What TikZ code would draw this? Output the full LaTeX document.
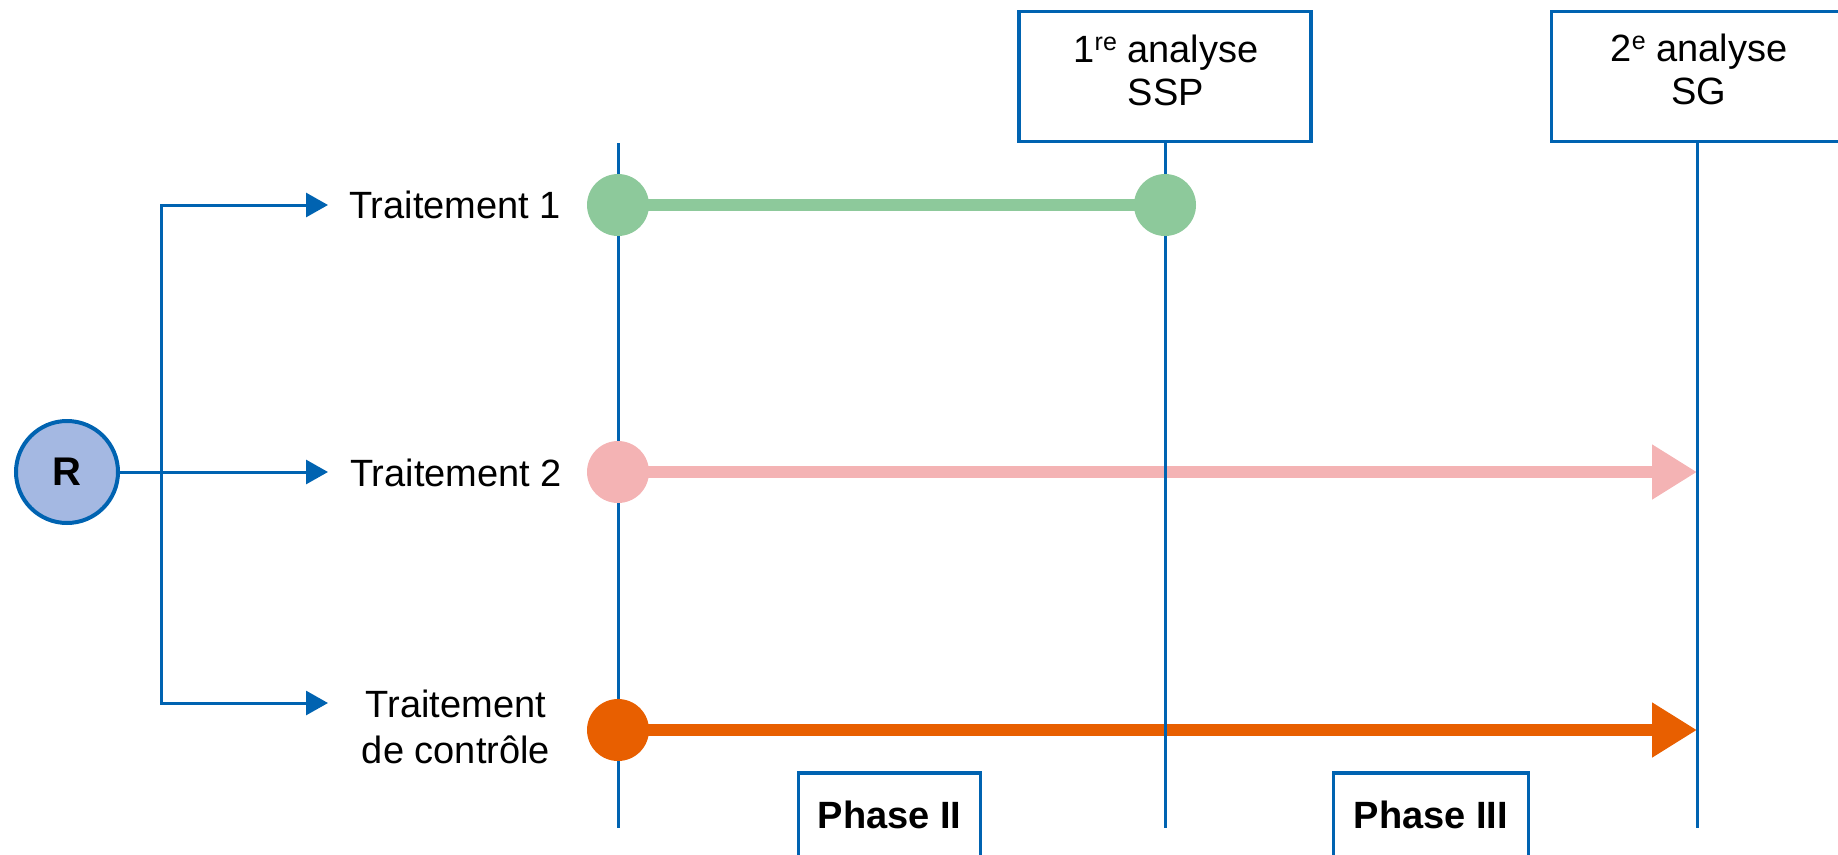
\documentclass[tikz,border=0pt]{standalone}
\usepackage{fontspec}
\setmainfont{Liberation Sans}
\usetikzlibrary{arrows.meta}

\definecolor{lineblue}{HTML}{0063B1}
\definecolor{rfill}{HTML}{A4B8E2}
\definecolor{trackgreen}{HTML}{8DC99B}
\definecolor{trackpink}{HTML}{F4B3B4}
\definecolor{trackorange}{HTML}{E85F00}

% small raised ordinal suffix (1re, 2e)
\newcommand{\ordsuffix}[1]{\raisebox{12pt}{\fontsize{25}{25}\selectfont #1}}

\tikzset{
  conn/.style={draw=lineblue, line width=3pt},
  branch/.style={conn, -{Triangle[length=22pt,width=24pt]}},
  track/.style={line width=12pt},
  trackarrow/.style={track, -{Triangle[length=45pt,width=52pt]}},
  dot/.style={circle, minimum size=62pt, inner sep=0pt},
  framebox/.style={draw=lineblue, line width=3.5pt, rectangle, inner sep=0pt},
  lab/.style={font=\fontsize{38}{43}\selectfont, inner sep=0pt, align=center},
}

\begin{document}
\begin{tikzpicture}[x=1pt,y=-1pt]
\clip (0,0) rectangle (1838,854);

% randomisation node and its three branches
\node[circle, draw=lineblue, line width=4pt, fill=rfill, minimum size=102pt,
      inner sep=0pt, font=\bfseries\fontsize{40}{40}\selectfont] (R) at (67,472) {R};
\coordinate (j)  at (161,472);
\coordinate (a1) at (328,205);
\coordinate (a2) at (328,472);
\coordinate (a3) at (328,703);
\draw[branch] (R) -- (a2);
\draw[branch] (j) |- (a1);
\draw[branch] (j) |- (a3);

% treatment labels
\node[lab, anchor=base] (t1) at (455,218) {Traitement 1};
\node[lab, anchor=base] (t2) at (456,486) {Traitement 2};
\node[lab, font=\fontsize{38}{46}\selectfont] (t3) at (456,726.5) {Traitement\\de contrôle};

% analysis boxes
\node[framebox, minimum width=292pt, minimum height=130pt] (b1) at (1165,76.5) {};
\node[lab] (l1) at (1166,70.5) {1\ordsuffix{re} analyse\\SSP};
\node[framebox, minimum width=291pt, minimum height=130pt] (b2) at (1697,76.5) {};
\node[lab] (l2) at (1699,69.5) {2\ordsuffix{e} analyse\\SG};

% phase boxes
\node[framebox, minimum width=182pt, minimum height=84pt,
      font=\bfseries\fontsize{38}{43}\selectfont] (p2) at (889.5,815) {Phase II};
\node[framebox, minimum width=195pt, minimum height=84pt,
      font=\bfseries\fontsize{38}{43}\selectfont] (p3) at (1431,815) {Phase III};

% treatment tracks
\coordinate (c1a) at (618,205);
\coordinate (c1b) at (1165,205);
\coordinate (c2)  at (618,472);
\coordinate (e2)  at (1697,472);
\coordinate (c3)  at (618,730);
\coordinate (e3)  at (1697,730);
\draw[track, trackgreen] (c1a) -- (c1b);
\draw[trackarrow, trackpink] (c2) -- (e2);
\draw[trackarrow, trackorange] (c3) -- (e3);

% time lines
\coordinate (v1top) at (618,143);
\coordinate (v1bot) at (618,828);
\coordinate (v2bot) at (1165,828);
\coordinate (v3bot) at (1697,828);
\draw[conn] (v1top) -- (v1bot);
\draw[conn] (b1.south) -- (v2bot);
\draw[conn] (b2.south) -- (v3bot);

% start and end markers
\node[dot, fill=trackgreen] (d1a) at (c1a) {};
\node[dot, fill=trackgreen] (d1b) at (c1b) {};
\node[dot, fill=trackpink] (d2) at (c2) {};
\node[dot, fill=trackorange] (d3) at (c3) {};
\end{tikzpicture}
\end{document}
